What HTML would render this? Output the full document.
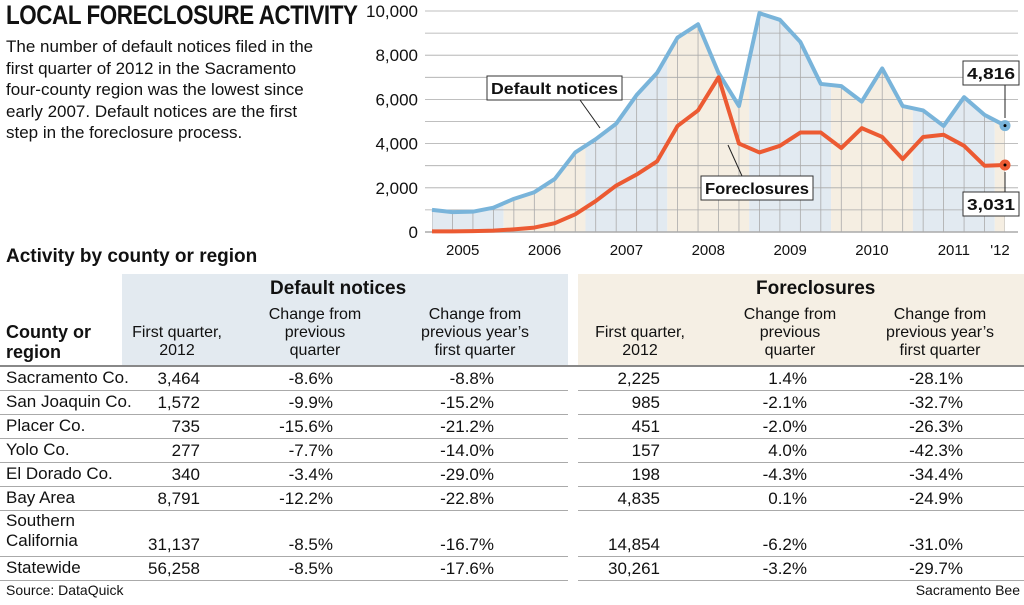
<!DOCTYPE html>
<html><head><meta charset="utf-8"><style>
body{margin:0;width:1024px;height:605px;background:#fff;font-family:"Liberation Sans Narrow","Liberation Sans",sans-serif;color:#111;position:relative;overflow:hidden}
.a{position:absolute;white-space:nowrap}
.title{left:6px;top:0px;font-size:27px;font-weight:bold;letter-spacing:-0.5px;transform:scaleX(0.83);transform-origin:0 0}
.intro{left:6px;top:36px;font-size:17px;line-height:21.5px}
.h2{left:6px;top:246px;font-size:19px;font-weight:bold}
.bg{position:absolute}
.hd{font-size:16px;line-height:18px;text-align:center}
.hb{font-size:19px;font-weight:bold}
.cell{position:absolute;font-size:17px;line-height:20px}
.line{position:absolute;left:0;width:1024px;height:1px;background:#aaa}
</style></head><body>
<div class="a title">LOCAL FORECLOSURE ACTIVITY</div>
<div class="a intro">The number of default notices filed in the<br>first quarter of 2012 in the Sacramento<br>four-county region was the lowest since<br>early 2007. Default notices are the first<br>step in the foreclosure process.</div>

<svg id="chart" style="position:absolute;left:0;top:0" width="1024" height="265"></svg>

<div class="a h2">Activity by county or region</div>
<div class="bg" style="left:122px;top:274px;width:446px;height:91px;background:#e3eaf0"></div>
<div class="bg" style="left:578px;top:274px;width:446px;height:91px;background:#f5efe4"></div>
<div class="a hb" style="left:270px;top:278px">Default notices</div>
<div class="a hb" style="left:756px;top:278px">Foreclosures</div>
<div class="a" style="left:6px;top:322px;font-size:18px;font-weight:bold;line-height:20px">County or<br>region</div>
<div class="a hd" style="left:122px;top:324px;width:110px">First quarter,<br>2012</div>
<div class="a hd" style="left:255px;top:306px;width:120px">Change from<br>previous<br>quarter</div>
<div class="a hd" style="left:405px;top:306px;width:140px">Change from<br>previous year’s<br>first quarter</div>
<div class="a hd" style="left:585px;top:324px;width:110px">First quarter,<br>2012</div>
<div class="a hd" style="left:730px;top:306px;width:120px">Change from<br>previous<br>quarter</div>
<div class="a hd" style="left:870px;top:306px;width:140px">Change from<br>previous year’s<br>first quarter</div>
<div class="line" style="top:365px;height:2px;background:#888"></div>
<div id="rows"></div>
<div class="a" style="left:6px;top:582px;font-size:14px">Source: DataQuick</div>
<div class="a" style="right:4px;top:582px;font-size:14px">Sacramento Bee</div>

<script>
const defaults=[1000,900,920,1100,1500,1800,2400,3600,4200,4900,6200,7200,8800,9400,7200,5700,9900,9600,8600,6700,6600,5900,7400,5700,5500,4800,6100,5300,4816];
const foreclosures=[30,30,40,60,120,200,400,800,1400,2100,2600,3200,4800,5500,7000,4000,3600,3900,4500,4500,3800,4700,4300,3300,4300,4400,3900,3000,3031];
const yTicks=[0,2000,4000,6000,8000,10000];
const yearLabels=["2005","2006","2007","2008","2009","2010","2011","'12"];
const NS="http://www.w3.org/2000/svg";
const svg=document.getElementById('chart');
const x0=432,x1=1005,n=defaults.length,dx=(x1-x0)/(n-1);
const X=i=>x0+i*dx, Y=v=>232-v*0.0221;
function mk(t,a){const e=document.createElementNS(NS,t);for(const k in a)e.setAttribute(k,a[k]);svg.appendChild(e);return e;}
const defs=mk('defs',{});
const cp=document.createElementNS(NS,'clipPath');cp.setAttribute('id','cp');
const cpp=document.createElementNS(NS,'path');
let d='M'+X(0)+','+Y(0);defaults.forEach((v,i)=>d+='L'+X(i)+','+Y(v));d+='L'+X(n-1)+','+Y(0)+'Z';
cpp.setAttribute('d',d);cp.appendChild(cpp);defs.appendChild(cp);
const g=mk('g',{'clip-path':'url(#cp)'});
for(let y=0;y<8;y++){const s=Math.max(X(0),X(y*4-0.5)),e=Math.min(X(n-1),X(y*4+3.5));
 if(e<=s)continue;
 const r=document.createElementNS(NS,'rect');r.setAttribute('x',s);r.setAttribute('y',0);r.setAttribute('width',e-s);r.setAttribute('height',240);
 r.setAttribute('fill',y%2?'#f5eee2':'#e2eaf1');
 
 
 g.appendChild(r);}
for(let i=0;i<n;i++){const l=document.createElementNS(NS,'line');l.setAttribute('x1',X(i));l.setAttribute('x2',X(i));l.setAttribute('y1',0);l.setAttribute('y2',232);l.setAttribute('stroke','#aaa');l.setAttribute('stroke-width','0.8');g.appendChild(l);}
for(let v=0;v<=10000;v+=1000){const l=mk('line',{x1:425,x2:1018,y1:Y(v),y2:Y(v),stroke:'#aaa','stroke-width':v==0?1.5:0.8});
 
 }
yTicks.forEach(v=>{const t=mk('text',{x:418,y:Y(v)+6,'text-anchor':'end','font-size':17,'font-family':'Liberation Sans Narrow, Liberation Sans, sans-serif',fill:'#111'});t.textContent=v.toLocaleString('en-US');
 
 });
yearLabels.forEach((s,k)=>{const xm=k<7?(X(k*4)+X(k*4+3))/2:X(n-1)-5;const t=mk('text',{x:xm,y:255,'text-anchor':'middle','font-size':15,'font-family':'Liberation Sans Narrow, Liberation Sans, sans-serif',fill:'#111'});t.textContent=s;
 
 });
function line(arr,c,name){const p=mk('polyline',{points:arr.map((v,i)=>X(i)+','+Y(v)).join(' '),fill:'none',stroke:c,'stroke-width':4,'stroke-linejoin':'round'});
 
 
 const cc=mk('circle',{cx:X(n-1),cy:Y(arr[n-1]),r:5.5,fill:c});
 
 
 mk('circle',{cx:X(n-1),cy:Y(arr[n-1]),r:1.5,fill:'#000'});}
line(defaults,'#79b4da','default-notices-line');line(foreclosures,'#ec5a32','foreclosures-line');
function label(x,y,w,txt,name,lx,ly,tx,ty){mk('line',{x1:lx,y1:ly,x2:tx,y2:ty,stroke:'#222','stroke-width':1});
 mk('rect',{x:x,y:y,width:w,height:24,fill:'#fff',stroke:'#333','stroke-width':1});
 const t=mk('text',{x:x+w/2,y:y+18,'text-anchor':'middle','font-size':16,'font-weight':'bold','font-family':'Liberation Sans Narrow, Liberation Sans, sans-serif',fill:'#111','textLength':w-8,'lengthAdjust':'spacingAndGlyphs'});t.textContent=txt;
 
 }
label(487,76,135,'Default notices','default-notices-label',580,100,600,128);
label(701,176,112,'Foreclosures','foreclosures-label',742,176,728,145);
label(963,61,56,(defaults[n-1]).toLocaleString('en-US'),'default-end-value',X(n-1),85,X(n-1),118);
label(963,192,56,(foreclosures[n-1]).toLocaleString('en-US'),'foreclosure-end-value',X(n-1),192,X(n-1),172);

const rows=[["Sacramento Co.","3,464","-8.6%","-8.8%","2,225","1.4%","-28.1%"],
["San Joaquin Co.","1,572","-9.9%","-15.2%","985","-2.1%","-32.7%"],
["Placer Co.","735","-15.6%","-21.2%","451","-2.0%","-26.3%"],
["Yolo Co.","277","-7.7%","-14.0%","157","4.0%","-42.3%"],
["El Dorado Co.","340","-3.4%","-29.0%","198","-4.3%","-34.4%"],
["Bay Area","8,791","-12.2%","-22.8%","4,835","0.1%","-24.9%"],
["Southern<br>California","31,137","-8.5%","-16.7%","14,854","-6.2%","-31.0%"],
["Statewide","56,258","-8.5%","-17.6%","30,261","-3.2%","-29.7%"]];
const rights=[200,333,494,660,807,963];
const R=document.getElementById('rows');let rowTop=367;
rows.forEach((r,i)=>{const h=i==6?46:24;
 const row=document.createElement('div');row.style.cssText='position:absolute;left:0;top:'+rowTop+'px;width:1024px;height:'+h+'px';
 
 
 let html='<div class="cell" style="left:6px;top:'+(i==6?0:1)+'px">'+r[0]+'</div>';
 for(let k=0;k<6;k++)html+='<div class="cell" style="right:'+(1024-rights[k])+'px;top:'+(h-22)+'px">'+r[k+1]+'</div>';
 html+='<div class="line" style="top:'+(h-1)+'px;left:0;width:568px"></div><div class="line" style="top:'+(h-1)+'px;left:578px;width:446px"></div>';
 row.innerHTML=html;R.appendChild(row);rowTop+=h;});
</script>
</body></html>
